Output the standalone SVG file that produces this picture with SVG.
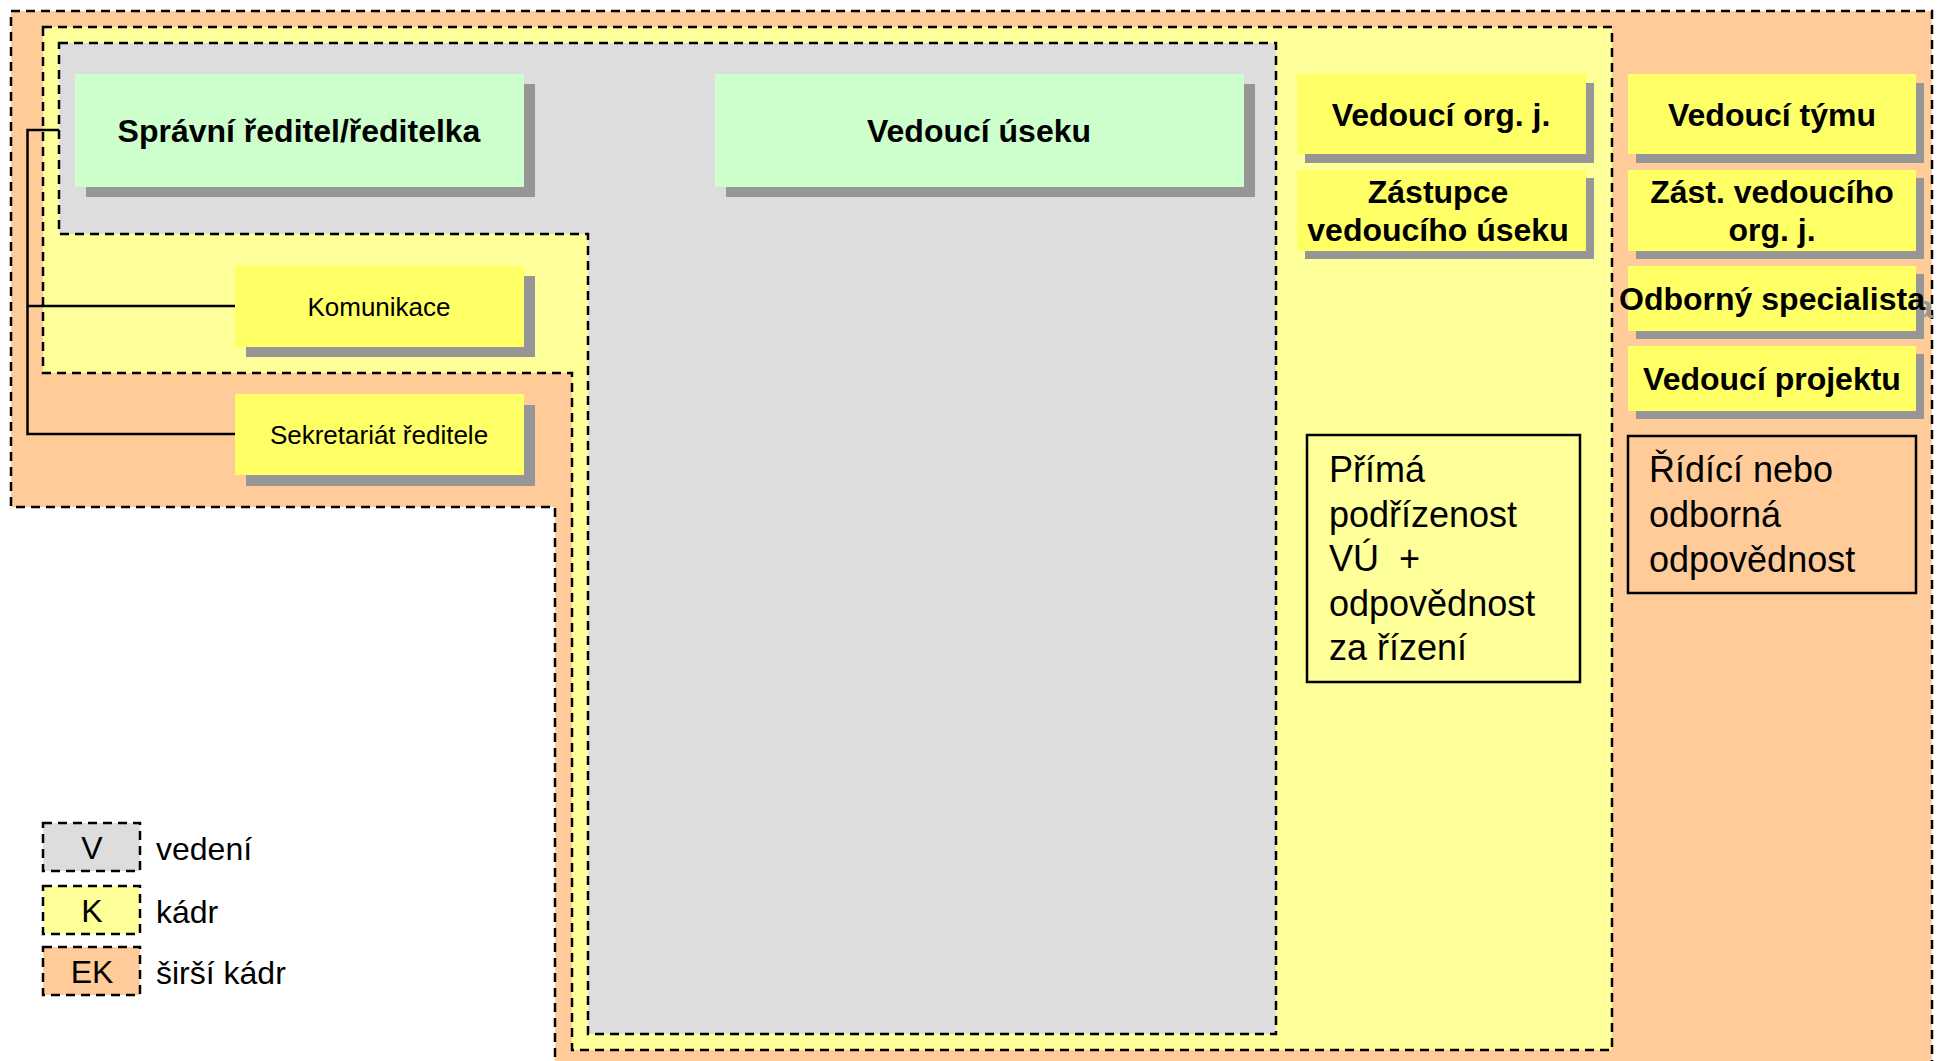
<svg xmlns="http://www.w3.org/2000/svg" width="1942" height="1061" viewBox="0 0 1942 1061">
<style>
.zone{stroke:#000;stroke-width:2.5;stroke-dasharray:9 6}
.ek{fill:#FFCC99}.k{fill:#FFFF99}.v{fill:#DDDDDD}
.sh{fill:#969696}
.green{fill:#CCFFCC}
.yel{fill:#FFFF66}
.tb{font-family:"Liberation Sans",Arial,sans-serif;font-weight:bold;font-size:32px;fill:#000;text-anchor:middle}
.tr{font-family:"Liberation Sans",Arial,sans-serif;font-size:26px;fill:#000;text-anchor:middle}
.tn{font-family:"Liberation Sans",Arial,sans-serif;font-size:36px;fill:#000;white-space:pre}
.tl{font-family:"Liberation Sans",Arial,sans-serif;font-size:32px;fill:#000}
.note{stroke:#000;stroke-width:2.5}
.conn{fill:none;stroke:#000;stroke-width:2.5}
</style>
<rect width="1942" height="1061" fill="#fff"/>
<g id="zone-ek"><polygon class="zone ek" points="11,11 1932,11 1932,1075 555,1075 555,507 11,507"/></g>
<g id="zone-k"><polygon class="zone k" points="43,27 1612,27 1612,1050 572,1050 572,373 43,373"/></g>
<g id="zone-v"><polygon class="zone v" points="59,43 1276,43 1276,1034 588,1034 588,234 59,234"/></g>

<g id="connectors">
<polyline class="conn" points="59,130 27.5,130 27.5,434 235,434"/>
<line class="conn" x1="27.5" y1="306" x2="235" y2="306"/>
</g>

<g id="spravni-reditel">
<rect class="sh" x="86" y="84" width="449" height="113"/>
<rect class="green" x="75" y="74" width="449" height="113"/>
<text class="tb" x="299" y="142">Správní ředitel/ředitelka</text>
</g>
<g id="vedouci-useku">
<rect class="sh" x="726" y="84" width="529" height="113"/>
<rect class="green" x="715" y="74" width="529" height="113"/>
<text class="tb" x="979" y="142">Vedoucí úseku</text>
</g>
<g id="komunikace">
<rect class="sh" x="246" y="276" width="289" height="81"/>
<rect class="yel" x="235" y="266" width="289" height="81"/>
<text class="tr" x="379" y="316">Komunikace</text>
</g>
<g id="sekretariat">
<rect class="sh" x="246" y="405" width="289" height="81"/>
<rect class="yel" x="235" y="394" width="289" height="81"/>
<text class="tr" x="379" y="444">Sekretariát ředitele</text>
</g>

<g id="vedouci-org-j">
<rect class="sh" x="1305" y="83" width="289" height="80"/>
<rect class="yel" x="1297" y="74" width="289" height="80"/>
<text class="tb" x="1441" y="126">Vedoucí org. j.</text>
</g>
<g id="zastupce-vu">
<rect class="sh" x="1305" y="178" width="289" height="81"/>
<rect class="yel" x="1297" y="170" width="289" height="81"/>
<text class="tb" x="1438" y="203">Zástupce</text>
<text class="tb" x="1438" y="241">vedoucího úseku</text>
</g>

<g id="vedouci-tymu">
<rect class="sh" x="1636" y="83" width="288" height="80"/>
<rect class="yel" x="1628" y="74" width="288" height="80"/>
<text class="tb" x="1772" y="126">Vedoucí týmu</text>
</g>
<g id="zast-vedouciho-org-j">
<rect class="sh" x="1636" y="178" width="288" height="81"/>
<rect class="yel" x="1628" y="170" width="288" height="81"/>
<text class="tb" x="1772" y="203">Zást. vedoucího</text>
<text class="tb" x="1772" y="241">org. j.</text>
</g>
<g id="odborny-specialista">
<rect class="sh" x="1636" y="274" width="288" height="65"/>
<text class="tb" x="1780" y="318" style="fill:#969696">Odborný specialista</text>
<rect class="yel" x="1628" y="266" width="288" height="65"/>
<text class="tb" x="1772" y="310">Odborný specialista</text>
</g>
<g id="vedouci-projektu">
<rect class="sh" x="1636" y="354" width="288" height="65"/>
<rect class="yel" x="1628" y="346" width="288" height="65"/>
<text class="tb" x="1772" y="390">Vedoucí projektu</text>
</g>

<g id="note-prima">
<rect class="note k" x="1307" y="435" width="273" height="247"/>
<text class="tn" x="1329" y="482">Přímá</text>
<text class="tn" x="1329" y="527">podřízenost</text>
<text class="tn" x="1329" y="571" xml:space="preserve">VÚ  +</text>
<text class="tn" x="1329" y="616">odpovědnost</text>
<text class="tn" x="1329" y="660">za řízení</text>
</g>
<g id="note-ridici">
<rect class="note ek" x="1628" y="436" width="288" height="157"/>
<text class="tn" x="1649" y="482">Řídící nebo</text>
<text class="tn" x="1649" y="527">odborná</text>
<text class="tn" x="1649" y="572">odpovědnost</text>
</g>

<g id="legend">
<rect class="zone v" x="43" y="823" width="97" height="48"/>
<text class="tl" x="92" y="859" text-anchor="middle">V</text>
<text class="tl" x="156" y="860">vedení</text>
<rect class="zone k" x="43" y="886" width="97" height="48"/>
<text class="tl" x="92" y="922" text-anchor="middle">K</text>
<text class="tl" x="156" y="923">kádr</text>
<rect class="zone ek" x="43" y="947" width="97" height="48"/>
<text class="tl" x="92" y="983" text-anchor="middle">EK</text>
<text class="tl" x="156" y="984">širší kádr</text>
</g>
</svg>
